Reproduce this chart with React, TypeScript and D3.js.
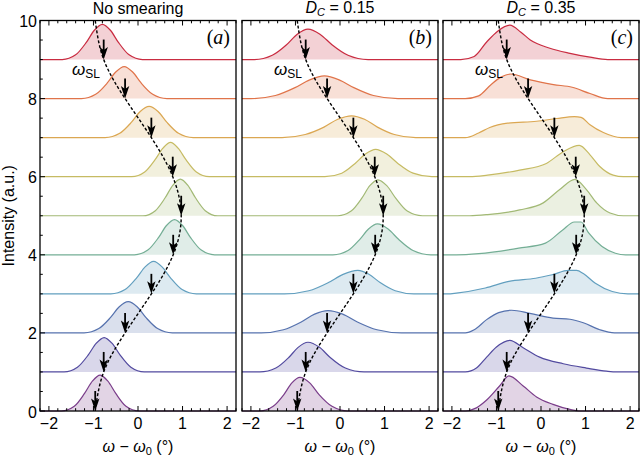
import React from 'react';
import * as d3 from 'd3';

type Pt = [number, number];

// stripe position omega_SL at each baseline (rows 0..10)
const omegaSL = [-0.96, -0.77, -0.29, 0.3, 0.79, 0.97, 0.78, 0.3, -0.29, -0.77, -0.96];

// row colours, bottom (0) to top (9)
const rowColors = ['#7a3d8a', '#524a9f', '#5672ae', '#629fbf', '#74ae95', '#a2b975', '#c6bb63', '#dba752', '#e0744a', '#c92c41'];

const panelTitles = ['No smearing', '0.15', '0.35'];
const panelLetters = ['a', 'b', 'c'];
const xTicks = [-2, -1, 0, 1, 2];
const yTicks = [0, 2, 4, 6, 8, 10];

// (a) no smearing
const curvesA: Pt[][] = [
  [[-1.72, 0], [-1.43, 0.12], [-1.2, 0.45], [-1.02, 0.77], [-0.85, 0.92], [-0.68, 0.77], [-0.5, 0.45], [-0.27, 0.12], [0.02, 0]],
  [[-1.66, 0], [-1.36, 0.12], [-1.12, 0.43], [-0.94, 0.73], [-0.76, 0.88], [-0.58, 0.73], [-0.4, 0.43], [-0.16, 0.12], [0.14, 0]],
  [[-1.21, 0], [-0.88, 0.11], [-0.62, 0.39], [-0.42, 0.67], [-0.22, 0.8], [-0.02, 0.67], [0.18, 0.39], [0.44, 0.11], [0.77, 0]],
  [[-0.61, 0], [-0.29, 0.11], [-0.03, 0.41], [0.16, 0.69], [0.35, 0.83], [0.54, 0.69], [0.73, 0.41], [0.99, 0.11], [1.31, 0]],
  [[-0.08, 0], [0.22, 0.12], [0.46, 0.44], [0.64, 0.75], [0.82, 0.9], [1.0, 0.75], [1.18, 0.44], [1.42, 0.12], [1.72, 0]],
  [[0.11, 0], [0.39, 0.13], [0.61, 0.46], [0.78, 0.78], [0.95, 0.94], [1.12, 0.78], [1.29, 0.46], [1.51, 0.13], [1.79, 0]],
  [[-0.14, 0], [0.15, 0.12], [0.38, 0.43], [0.56, 0.73], [0.73, 0.88], [0.9, 0.73], [1.08, 0.43], [1.31, 0.12], [1.6, 0]],
  [[-0.74, 0], [-0.41, 0.11], [-0.15, 0.39], [0.05, 0.67], [0.25, 0.8], [0.45, 0.67], [0.65, 0.39], [0.91, 0.11], [1.24, 0]],
  [[-1.27, 0], [-0.95, 0.11], [-0.69, 0.4], [-0.5, 0.68], [-0.31, 0.82], [-0.12, 0.68], [0.07, 0.4], [0.33, 0.11], [0.65, 0]],
  [[-1.7, 0], [-1.4, 0.12], [-1.16, 0.44], [-0.98, 0.75], [-0.8, 0.9], [-0.62, 0.75], [-0.44, 0.44], [-0.2, 0.12], [0.1, 0]],
];

// (b) D_C = 0.15
const curvesB: Pt[][] = [
  [[-1.8, 0], [-1.5, 0.12], [-1.26, 0.42], [-1.08, 0.72], [-0.9, 0.86], [-0.68, 0.72], [-0.47, 0.42], [-0.18, 0.12], [0.18, 0]],
  [[-1.8, 0], [-1.44, 0.1], [-1.15, 0.37], [-0.94, 0.63], [-0.72, 0.76], [-0.46, 0.63], [-0.22, 0.37], [0.12, 0.1], [0.54, 0]],
  [[-1.77, 0], [-1.27, 0.08], [-0.87, 0.28], [-0.57, 0.48], [-0.27, 0.57], [0.06, 0.48], [0.39, 0.28], [0.83, 0.08], [1.38, 0]],
  [[-1.25, 0], [-0.7, 0.08], [-0.26, 0.29], [0.07, 0.5], [0.4, 0.6], [0.65, 0.5], [0.9, 0.29], [1.24, 0.08], [1.66, 0]],
  [[-0.16, 0], [0.18, 0.11], [0.44, 0.39], [0.64, 0.66], [0.84, 0.79], [1.08, 0.66], [1.32, 0.39], [1.64, 0.11], [2.04, 0]],
  [[-0.05, 0], [0.25, 0.12], [0.49, 0.45], [0.67, 0.77], [0.85, 0.92], [1.05, 0.77], [1.25, 0.45], [1.51, 0.12], [1.85, 0]],
  [[-0.34, 0], [0.04, 0.09], [0.34, 0.34], [0.57, 0.58], [0.8, 0.7], [1.05, 0.58], [1.3, 0.34], [1.64, 0.09], [2.06, 0]],
  [[-1.3, 0], [-0.78, 0.08], [-0.36, 0.27], [-0.05, 0.47], [0.26, 0.56], [0.55, 0.47], [0.84, 0.27], [1.22, 0.08], [1.7, 0]],
  [[-2.0, 0], [-1.45, 0.08], [-1.01, 0.28], [-0.68, 0.48], [-0.35, 0.58], [-0.02, 0.48], [0.31, 0.28], [0.75, 0.08], [1.3, 0]],
  [[-1.92, 0], [-1.52, 0.11], [-1.2, 0.38], [-0.96, 0.65], [-0.72, 0.78], [-0.45, 0.65], [-0.18, 0.38], [0.18, 0.11], [0.63, 0]],
];

// (c) D_C = 0.35
const curvesC: Pt[][] = [
  [[-1.7, 0], [-1.45, 0.08], [-1.22, 0.28], [-0.93, 0.64], [-0.72, 0.9], [-0.4, 0.64], [-0.1, 0.36], [0.27, 0.17], [0.65, 0.04], [0.85, 0]],
  [[-1.7, 0], [-1.45, 0.1], [-1.22, 0.38], [-1.0, 0.64], [-0.7, 0.81], [-0.4, 0.62], [-0.03, 0.38], [0.5, 0.21], [1.02, 0.1], [1.47, 0.02], [1.7, 0]],
  [[-1.7, 0], [-1.5, 0.08], [-1.22, 0.34], [-0.95, 0.52], [-0.66, 0.58], [-0.25, 0.5], [0.27, 0.38], [0.65, 0.35], [0.95, 0.26], [1.32, 0.08], [1.65, 0]],
  [[-2.1, 0], [-1.9, 0.02], [-1.25, 0.15], [-0.72, 0.32], [-0.12, 0.4], [0.25, 0.49], [0.62, 0.6], [0.8, 0.6], [0.95, 0.52], [1.22, 0.27], [1.6, 0.06], [1.95, 0]],
  [[-1.9, 0], [-1.4, 0.03], [-0.5, 0.17], [0.1, 0.3], [0.48, 0.63], [0.75, 0.84], [0.9, 0.84], [1.07, 0.56], [1.37, 0.21], [1.67, 0.04], [1.9, 0]],
  [[-1.6, 0], [-1.2, 0.03], [-0.48, 0.15], [0.05, 0.33], [0.42, 0.67], [0.76, 0.93], [1.02, 0.67], [1.25, 0.33], [1.55, 0.07], [1.85, 0]],
  [[-1.6, 0], [-1.2, 0.04], [-0.48, 0.17], [0.12, 0.34], [0.5, 0.64], [0.86, 0.8], [1.1, 0.56], [1.32, 0.26], [1.62, 0.04], [1.85, 0]],
  [[-1.7, 0], [-1.4, 0.12], [-1.15, 0.26], [-0.75, 0.37], [-0.1, 0.42], [0.35, 0.49], [0.75, 0.54], [0.9, 0.52], [1.1, 0.33], [1.4, 0.13], [1.8, 0]],
  [[-1.7, 0], [-1.4, 0.07], [-1.13, 0.35], [-0.9, 0.55], [-0.68, 0.63], [-0.24, 0.48], [0.28, 0.36], [0.7, 0.29], [1.1, 0.13], [1.5, 0]],
  [[-1.8, 0], [-1.5, 0.08], [-1.22, 0.45], [-0.98, 0.72], [-0.7, 0.88], [-0.45, 0.7], [-0.24, 0.5], [0.2, 0.29], [0.65, 0.16], [1.1, 0.06], [1.5, 0]],
];

const panels = [curvesA, curvesB, curvesC];

const W = 640;
const H = 457;
const plotTop = 20.5;
const plotBottom = 411;
const panelLeft = [40, 242, 443];
const panelW = 196;
const sans = '"Liberation Sans", Arial, sans-serif';
const serif = '"Liberation Serif", "Times New Roman", serif';

const y = d3.scaleLinear().domain([0, 10]).range([plotBottom, plotTop]);

function Panel({ p }: { p: number }) {
  const left = panelLeft[p];
  const x = d3.scaleLinear().domain([-2.2, 2.2]).range([left, left + panelW]);
  const curves = panels[p];

  const minorX = d3.range(-22, 23, 2).map((v) => v / 10);

  const dashed = d3
    .line<number>()
    .x((d) => x(d))
    .y((_, i) => y(i))
    .curve(d3.curveNatural)(omegaSL);

  const cx = x(0);

  return (
    <g>
      {curves.map((pts, i) => {
        const full: Pt[] = [[-2.2, 0], ...pts, [2.2, 0]];
        const area = d3
          .area<Pt>()
          .x((d) => x(d[0]))
          .y0(y(i))
          .y1((d) => y(i + d[1]))
          .curve(d3.curveMonotoneX)(full);
        const line = d3
          .line<Pt>()
          .x((d) => x(d[0]))
          .y((d) => y(i + d[1]))
          .curve(d3.curveMonotoneX)(full);
        return (
          <g key={i}>
            <path d={area || ''} fill={rowColors[i]} fillOpacity={0.22} stroke="none" />
            <path d={line || ''} fill="none" stroke={rowColors[i]} strokeWidth={1.2} />
          </g>
        );
      })}

      <path d={dashed || ''} fill="none" stroke="#000" strokeWidth={1.4} strokeDasharray="3,2" />

      {omegaSL.slice(0, 10).map((w, i) => {
        const ax = x(w);
        const ay = y(i);
        return (
          <g key={i}>
            <line x1={ax} x2={ax} y1={ay - 20} y2={ay - 8} stroke="#000" strokeWidth={1.8} />
            <path d={`M${ax},${ay} L${ax - 4.2},${ay - 12.5} L${ax},${ay - 9.5} L${ax + 4.2},${ay - 12.5} Z`} fill="#000" />
          </g>
        );
      })}

      <text x={x(-1.48)} y={y(8.6)} fontFamily={sans} fontSize={17} fill="#000">
        <tspan fontStyle="italic">ω</tspan>
        <tspan fontSize={12} dy={3}>SL</tspan>
      </text>

      <text x={left + panelW - 6} y={44} fontFamily={serif} fontSize={20} textAnchor="end" fill="#000">
        (<tspan fontStyle="italic">{panelLetters[p]}</tspan>)
      </text>

      {/* frame */}
      <rect x={left} y={plotTop} width={panelW} height={plotBottom - plotTop} fill="none" stroke="#000" strokeWidth={1.3} />

      {minorX.map((v) => {
        const major = Math.abs(v - Math.round(v)) < 1e-6;
        const len = major ? 5 : 2.8;
        return (
          <g key={v}>
            <line x1={x(v)} x2={x(v)} y1={plotBottom} y2={plotBottom - len} stroke="#000" strokeWidth={1} />
            <line x1={x(v)} x2={x(v)} y1={plotTop} y2={plotTop + len} stroke="#000" strokeWidth={1} />
          </g>
        );
      })}

      {xTicks.map((t) => (
        <text key={t} x={x(t)} y={429} fontFamily={sans} fontSize={16} textAnchor="middle" fill="#000">
          {t < 0 ? `\u2212${Math.abs(t)}` : t}
        </text>
      ))}

      <text x={cx} y={452} fontFamily={sans} fontSize={16} textAnchor="middle" fill="#000">
        <tspan fontStyle="italic">ω</tspan>
        <tspan> − </tspan>
        <tspan fontStyle="italic">ω</tspan>
        <tspan fontSize={11} dy={3}>0</tspan>
        <tspan dy={-3}> (°)</tspan>
      </text>

      {p === 0 ? (
        <text x={cx} y={13.5} fontFamily={sans} fontSize={16} textAnchor="middle" fill="#000">
          {panelTitles[p]}
        </text>
      ) : (
        <text x={cx} y={12.5} fontFamily={sans} fontSize={16} textAnchor="middle" fill="#000">
          <tspan fontStyle="italic">D</tspan>
          <tspan fontStyle="italic" fontSize={11} dy={3}>C</tspan>
          <tspan dy={-3}> = {panelTitles[p]}</tspan>
        </text>
      )}
    </g>
  );
}

export default function App() {
  const minorY = d3.range(0, 21).map((v) => v / 2);
  const left = panelLeft[0];
  return (
    <div style={{ position: 'absolute', left: 0, top: 0 }}>
      <svg width={W} height={H} style={{ display: 'block', background: '#fff' }}>
        {[0, 1, 2].map((p) => (
          <Panel key={p} p={p} />
        ))}
        {minorY.map((v) => {
          const major = v % 2 === 0;
          return (
            <line key={v} x1={left} x2={left + (major ? 5 : 2.8)} y1={y(v)} y2={y(v)} stroke="#000" strokeWidth={1} />
          );
        })}
        {yTicks.map((t) => (
          <text key={t} x={37} y={y(t) + 6.5} fontFamily={sans} fontSize={16} textAnchor="end" fill="#000">
            {t}
          </text>
        ))}
        <text
          transform={`translate(14,${(plotTop + plotBottom) / 2}) rotate(-90)`}
          fontFamily={sans}
          fontSize={16}
          textAnchor="middle"
          fill="#000"
        >
          Intensity (a.u.)
        </text>
      </svg>
    </div>
  );
}
